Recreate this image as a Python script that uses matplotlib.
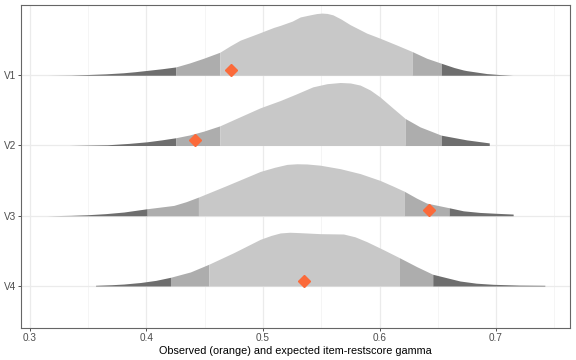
import numpy as np
import matplotlib
matplotlib.use("Agg")
import matplotlib.pyplot as plt

plt.rcParams['font.family'] = ['Liberation Sans', 'DejaVu Sans']

# items, bottom row first
items = ['V4', 'V3', 'V2', 'V1']

# simulated (expected) gamma densities, heights in row units
v1_x = [0.315, 0.335, 0.349, 0.365, 0.38, 0.39, 0.401, 0.413, 0.425, 0.437, 0.449, 0.463,
        0.472, 0.4805, 0.495, 0.509, 0.5148, 0.525, 0.532, 0.5405, 0.546, 0.5506, 0.555,
        0.560, 0.567, 0.5748, 0.589, 0.6005, 0.6148, 0.628, 0.6405, 0.653, 0.664, 0.672,
        0.6748, 0.692, 0.703, 0.7145]
v1_h = [0.0, 0.003, 0.01, 0.02, 0.035, 0.05, 0.07, 0.092, 0.118, 0.175, 0.242, 0.328,
        0.42, 0.50, 0.59, 0.68, 0.71, 0.77, 0.83, 0.86, 0.878, 0.885, 0.88,
        0.86, 0.80, 0.72, 0.60, 0.527, 0.43, 0.338, 0.242, 0.171, 0.11, 0.075,
        0.066, 0.024, 0.01, 0.0]

v2_x = [0.3334, 0.3663, 0.385, 0.4006, 0.413, 0.425, 0.437, 0.449, 0.463, 0.4805, 0.4977,
        0.5148, 0.528, 0.5428, 0.555, 0.5663, 0.575, 0.5834, 0.592, 0.6005, 0.611, 0.622,
        0.6348, 0.653, 0.6748, 0.6942]
v2_h = [0.0, 0.01, 0.03, 0.053, 0.08, 0.11, 0.15, 0.204, 0.28, 0.41, 0.537,
        0.64, 0.73, 0.835, 0.88, 0.897, 0.89, 0.86, 0.79, 0.69, 0.54, 0.385,
        0.265, 0.147, 0.08, 0.037]

v3_x = [0.3143, 0.335, 0.349, 0.365, 0.3806, 0.4006, 0.4234, 0.434, 0.4446, 0.4691, 0.4977,
        0.51, 0.5206, 0.529, 0.5377, 0.549, 0.5663, 0.5834, 0.6005, 0.6119, 0.6211, 0.6319,
        0.6405, 0.6597, 0.672, 0.6862, 0.70, 0.7147]
v3_h = [0.0, 0.006, 0.014, 0.03, 0.053, 0.10, 0.147, 0.20, 0.266, 0.432, 0.631,
        0.69, 0.731, 0.74, 0.737, 0.72, 0.67, 0.60, 0.503, 0.42, 0.35, 0.25,
        0.18, 0.114, 0.07, 0.047, 0.035, 0.024]

v4_x = [0.3563, 0.37, 0.3806, 0.395, 0.408, 0.4206, 0.4377, 0.4534, 0.4748, 0.4977, 0.507,
        0.5148, 0.523, 0.532, 0.5491, 0.5691, 0.579, 0.5891, 0.603, 0.6171, 0.632, 0.6457,
        0.6691, 0.683, 0.6976, 0.72, 0.7419]
v4_h = [0.01, 0.018, 0.028, 0.05, 0.08, 0.124, 0.20, 0.309, 0.474, 0.665, 0.72,
        0.755, 0.765, 0.759, 0.745, 0.74, 0.70, 0.631, 0.52, 0.403, 0.275, 0.167,
        0.071, 0.04, 0.024, 0.013, 0.01]

# quantile cuts: outer low, inner low, inner high, outer high
cuts = {
    'V1': (0.425, 0.463, 0.628, 0.653),
    'V2': (0.425, 0.463, 0.622, 0.653),
    'V3': (0.4006, 0.4446, 0.6211, 0.6597),
    'V4': (0.4206, 0.4534, 0.6171, 0.6457),
}

observed = {'V1': 0.4726, 'V2': 0.4414, 'V3': 0.6428, 'V4': 0.5355}

curves = {'V1': (v1_x, v1_h), 'V2': (v2_x, v2_h), 'V3': (v3_x, v3_h), 'V4': (v4_x, v4_h)}

c_dark, c_mid, c_light = '#6E6E6E', '#ADADAD', '#C8C8C8'

fig = plt.figure(figsize=(5.76, 3.6), dpi=100)
ax = fig.add_axes([21/576, 1 - 328/360, 549/576, 323/360])

for i, it in enumerate(items):
    base = i + 1
    x = np.array(curves[it][0])
    h = np.array(curves[it][1])
    q1, q2, q3, q4 = cuts[it]
    segs = [(x.min(), q1, c_dark), (q1, q2, c_mid), (q2, q3, c_light),
            (q3, q4, c_mid), (q4, x.max(), c_dark)]
    for a, b, col in segs:
        m = (x >= a - 1e-9) & (x <= b + 1e-9)
        ax.fill_between(x[m], base, base + h[m], color=col, lw=0, zorder=2)
    ax.plot(observed[it], base + 0.075, marker='D', ms=6.2, color='#FB6A3A',
            mec='#FB6A3A', zorder=4, ls='none')

ax.set_xlim(0.2923, 0.7635)
ax.set_ylim(0.402, 5.0)
ax.set_xticks([0.3, 0.4, 0.5, 0.6, 0.7])
ax.set_xticklabels(['0.3', '0.4', '0.5', '0.6', '0.7'])
ax.set_xticks([0.35, 0.45, 0.55, 0.65, 0.75], minor=True)
ax.set_yticks([1, 2, 3, 4])
ax.set_yticklabels(items)

ax.grid(True, which='major', color='#EBEBEB', lw=0.9, zorder=0)
ax.grid(True, which='minor', axis='x', color='#F2F2F2', lw=0.5, zorder=0)
ax.set_axisbelow(True)
ax.tick_params(which='major', length=2.5, width=0.6, color='#333333',
               labelsize=7.2, labelcolor='#4D4D4D', pad=1.2)
ax.tick_params(which='minor', length=0)
for s in ax.spines.values():
    s.set_color('#666666')
    s.set_linewidth(0.8)

ax.set_xlabel('Observed (orange) and expected item-restscore gamma',
              fontsize=7.8, color='black', labelpad=2)

fig.savefig('out.png', dpi=100)
